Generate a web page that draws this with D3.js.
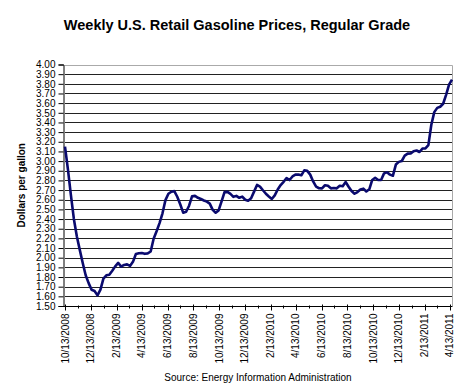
<!DOCTYPE html>
<html><head><meta charset="utf-8">
<script src="https://cdn.jsdelivr.net/npm/d3@7"></script>
<style>html,body{margin:0;padding:0;background:#fff}svg{display:block}text{font-family:"Liberation Sans",Arial,sans-serif}</style>
</head><body>
<script>
const title = "Weekly U.S. Retail Gasoline Prices, Regular Grade";
const yTitle = "Dollars per gallon";
const source = "Source:  Energy Information Administration";
const firstWeek = "2008-10-13"; // weekly (Monday) observations start here
const prices2008 = [3.150,2.912,2.647,2.401,2.223,2.081,1.946,1.819,1.737,1.668,1.655,1.610];
const prices2009 = [1.670,1.784,1.818,1.824,1.865,1.910,1.946,1.908,1.925,1.931,1.915,1.957,2.038,2.046,2.048,2.040,2.045,2.064,2.196,2.274,2.358,2.460,2.596,2.662,2.683,2.689,2.631,2.553,2.466,2.476,2.538,2.635,2.640,2.620,2.608,2.592,2.581,2.560,2.495,2.466,2.490,2.584,2.679,2.681,2.660,2.630,2.640,2.620,2.632,2.600,2.589,2.615];
const prices2010 = [2.684,2.753,2.736,2.698,2.662,2.634,2.608,2.645,2.706,2.752,2.786,2.825,2.804,2.841,2.860,2.862,2.853,2.904,2.899,2.860,2.789,2.735,2.719,2.718,2.750,2.744,2.718,2.721,2.718,2.744,2.739,2.783,2.735,2.690,2.662,2.680,2.706,2.715,2.686,2.708,2.805,2.827,2.805,2.805,2.873,2.885,2.860,2.849,2.964,2.992,3.001,3.056];
const prices2011 = [3.077,3.078,3.103,3.110,3.094,3.130,3.132,3.166,3.376,3.507,3.551,3.563,3.594,3.686,3.791,3.843];
const xTickLabels = ["10/13/2008","12/13/2008","2/13/2009","4/13/2009","6/13/2009","8/13/2009","10/13/2009","12/13/2009","2/13/2010","4/13/2010","6/13/2010","8/13/2010","10/13/2010","12/13/2010","2/13/2011","4/13/2011"];
const yTicks = [1.50,1.60,1.70,1.80,1.90,2.00,2.10,2.20,2.30,2.40,2.50,2.60,2.70,2.80,2.90,3.00,3.10,3.20,3.30,3.40,3.50,3.60,3.70,3.80,3.90,4.00];

const W = 474, H = 391;
const L = 65, R = 452, T = 64.5, B = 306;
const parse = d3.timeParse("%m/%d/%Y");
const start = d3.timeParse("%Y-%m-%d")(firstWeek);
const values = [...prices2008, ...prices2009, ...prices2010, ...prices2011];
const data = values.map((v, i) => ({date: d3.timeDay.offset(start, 7 * i), v}));

const svg = d3.select("body").append("svg").attr("width", W).attr("height", H);
const x = d3.scaleTime().domain([start, data[data.length - 1].date]).range([L, R]);
const y = d3.scaleLinear().domain([1.5, 4.0]).range([B, T]);

// gridlines
svg.append("g").selectAll("line").data(yTicks.slice(1, -1)).join("line")
  .attr("x1", L).attr("x2", R).attr("y1", d => Math.round(y(d)) + 0.5).attr("y2", d => Math.round(y(d)) + 0.5)
  .attr("stroke", "#222").attr("stroke-width", 1);
// plot border top/right
svg.append("path").attr("d", `M${L},${Math.round(T)+0.5}H${R+0.5}V${B}`).attr("fill", "none").attr("stroke", "#aaa");

// y axis
const yAxis = d3.axisLeft(y).tickValues(yTicks).tickFormat(d3.format(".2f")).tickSize(5).tickPadding(3);
const gy = svg.append("g").attr("transform", `translate(${L - 1.5},0)`).call(yAxis);
gy.select(".domain").attr("stroke", "#000");
gy.selectAll(".tick line").attr("stroke", "#000");
gy.selectAll("text").attr("font-size", 10).attr("fill", "#000").attr("font-family", "Liberation Sans, Arial, sans-serif");

// x axis
const majorDates = xTickLabels.map(parse);
const minorDates = d3.range(majorDates.length - 1).map(i => d3.timeMonth.offset(majorDates[i], 1));
const gx = svg.append("g").attr("transform", `translate(0,${B + 0.5})`);
gx.append("line").attr("x1", L - 1.5).attr("x2", R + 0.5).attr("stroke", "#000");
gx.selectAll("line.maj").data(majorDates).join("line").attr("class", "maj")
  .attr("x1", d => Math.round(x(d)) + 0.5).attr("x2", d => Math.round(x(d)) + 0.5).attr("y1", -2).attr("y2", 4).attr("stroke", "#000");
gx.selectAll("line.min").data(minorDates).join("line").attr("class", "min")
  .attr("x1", d => Math.round(x(d)) + 0.5).attr("x2", d => Math.round(x(d)) + 0.5).attr("y1", -1).attr("y2", 2).attr("stroke", "#000");
gx.selectAll("text").data(xTickLabels).join("text")
  .attr("transform", d => `translate(${x(parse(d))},7) rotate(-90)`)
  .attr("text-anchor", "end").attr("dy", "0.35em").attr("font-size", 10).attr("fill", "#000").text(d => d);

// line
svg.append("path").datum(data)
  .attr("d", d3.line().x(d => x(d.date)).y(d => y(d.v)))
  .attr("fill", "none").attr("stroke", "#0a0a6e").attr("stroke-width", 2.6).attr("stroke-linejoin", "round");

// titles
svg.append("text").attr("x", 237).attr("y", 30).attr("text-anchor", "middle")
  .attr("font-size", 14.5).attr("font-weight", "bold").text(title);
svg.append("text").attr("transform", `translate(25,${(T + B) / 2}) rotate(-90)`).attr("text-anchor", "middle")
  .attr("font-size", 10).attr("font-weight", "bold").text(yTitle);
svg.append("text").attr("x", 258).attr("y", 381).attr("text-anchor", "middle")
  .attr("font-size", 10).text(source);
</script>
</body></html>
